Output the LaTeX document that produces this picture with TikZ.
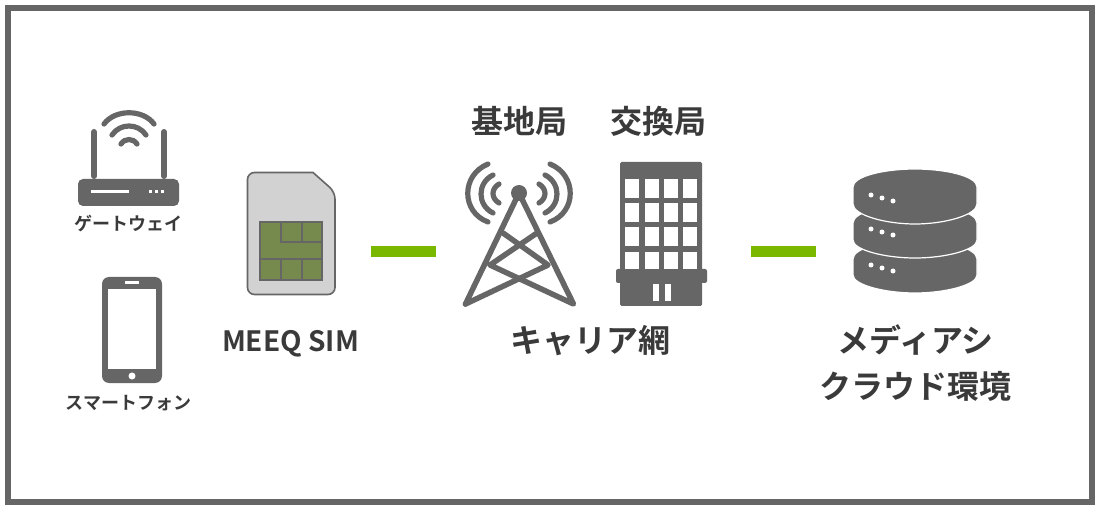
\documentclass[tikz,border=0pt]{standalone}
\usepackage{fontspec}
\setmainfont{Noto Sans CJK JP}[BoldFont={Noto Sans CJK JP Bold}]
\definecolor{ic}{HTML}{666666}
\definecolor{tx}{HTML}{3A3A3A}
\definecolor{bar}{HTML}{7AB800}
\definecolor{chip}{HTML}{758A4C}
\definecolor{sim}{HTML}{D2D2D2}
\tikzset{
 big/.style={text=tx,font=\fontsize{32}{37}\selectfont\bfseries,inner sep=0pt,align=center},
 small/.style={text=tx,font=\fontsize{18}{22}\selectfont\bfseries,inner sep=0pt},
 latin/.style={text=tx,font=\fontsize{28}{32}\selectfont\bfseries,inner sep=0pt},
 bars/.style={draw=bar,line width=11pt},
 wave/.style={draw=ic,line width=5.2pt,line cap=round},
 truss/.style={draw=ic,line width=5.5pt,line cap=round,line join=round},
 chipline/.style={draw=ic,line width=2.4pt},
 win/.style={fill=white},
 dot/.style={fill=white},
 disc/.style={fill=ic,draw=white,line width=1.2pt}
}
\begin{document}
\begin{tikzpicture}[x=1pt,y=-1pt]
\useasboundingbox (0,0) rectangle (1100,510);
\fill[white] (0,0) rectangle (1100,510);
\draw[ic,line width=6pt] (8,8) rectangle (1092,502);
% router
\fill[ic,rounded corners=5pt] (78,179) rectangle (179,206);
\fill[white] (91,190.5) rectangle (129,193.5);
\foreach \x in {149,155,161} \fill[white] (\x,190.5) rectangle +(3.2,3);
\draw[ic,line width=6pt,line cap=round] (94,132) -- (94,176) (164,132) -- (164,176);
\draw[wave] (104,124) .. controls (115,109) and (143,109) .. (154,124);
\draw[wave] (112,135) .. controls (120,123) and (138,123) .. (146,135);
\draw[wave] (121,144) .. controls (125,138) and (133,138) .. (137,144);
\node[small] (gw) at (128.5,224) {ゲートウェイ};
% phone
\fill[ic,rounded corners=7pt] (102,277) rectangle (162,383);
\fill[white] (108,289) rectangle (156,369);
\fill[white] (125,281.5) rectangle (139,284);
\fill[white] (132,376) circle (3.5);
\node[small] (sp) at (128.5,403) {スマートフォン};
% sim
\draw[draw=ic,fill=sim,line width=1.6pt,rounded corners=7pt] (313,172.5) -- (247.5,172.5) -- (247.5,294.5) -- (335,294.5) -- (335,192) [sharp corners] -- (313,172.5) -- cycle;
\fill[chip] (260,222) rectangle (322,280);
\draw[chipline] (260,222) rectangle (322,280);
\draw[chipline] (281,222) -- (281,242) -- (322,242) (302,222) -- (302,242) (260,259) -- (322,259) (281,259) -- (281,280) (302,259) -- (302,280);
\node[latin] (meeq) at (290.5,344) {MEEQ SIM};
% bars
\coordinate (b1a) at (371,251.5); \coordinate (b1b) at (436,251.5);
\coordinate (b2a) at (751,251.5); \coordinate (b2b) at (816,251.5);
\draw[bars] (b1a) -- (b1b);
\draw[bars] (b2a) -- (b2b);
% tower
\fill[ic] (519,193) circle (8);
\draw[wave] (488,164) .. controls (461,175) and (461,212) .. (488,222);
\draw[wave] (493,175) .. controls (477,183) and (477,205) .. (493,213);
\draw[wave] (499,184) .. controls (491,189) and (491,198) .. (499,203);
\draw[wave] (550,164) .. controls (577,175) and (577,212) .. (550,222);
\draw[wave] (545,175) .. controls (561,183) and (561,205) .. (545,213);
\draw[wave] (539,184) .. controls (547,189) and (547,198) .. (539,203);
\draw[truss] (465.5,304) -- (519,193) -- (573.5,304) -- (490,265) -- (537,233);
\draw[truss] (465.5,304) -- (548,265) -- (503,233);
\node[big] (bs) at (519,121) {基地局};
% building
\fill[ic,rounded corners=1.5pt] (620,162) rectangle (702,306);
\fill[ic,rounded corners=2pt] (616,269) rectangle (707,283);
\foreach \x in {625,645,664,683}
 \foreach \y/\h in {179/19,203/19,227/19,252/17}
  \fill[win] (\x,\y) rectangle +(14,\h);
\fill[win] (653,284) rectangle (659,301);
\fill[win] (665,284) rectangle (671,301);
\node[big] (ex) at (658.5,121) {交換局};
\node[big] (car) at (590,341) {キャリア網};
% database
\path[disc] (853,259) .. controls (853,248) and (885,240) .. (915,240) .. controls (945,240) and (977,248) .. (977,259) -- (977,275) .. controls (977,285) and (945,293) .. (915,293) .. controls (885,293) and (853,285) .. (853,275) -- cycle;
\path[disc] (853,223) .. controls (853,212) and (885,204) .. (915,204) .. controls (945,204) and (977,212) .. (977,223) -- (977,240) .. controls (977,250) and (945,258) .. (915,258) .. controls (885,258) and (853,250) .. (853,240) -- cycle;
\path[disc] (853,187) .. controls (853,176) and (885,169) .. (915,169) .. controls (945,169) and (977,176) .. (977,187) -- (977,204) .. controls (977,215) and (945,224) .. (915,224) .. controls (885,224) and (853,215) .. (853,204) -- cycle;
\foreach \y in {195,229,265} {
 \fill[dot] (871,\y) circle (2.5);
 \fill[dot] (882,\y+3) circle (2.5);
 \fill[dot] (893,\y+6) circle (2.5);
}
\node[big] (cl) at (915.5,363) {メディアシ\\[9pt]クラウド環境};
\end{tikzpicture}
\end{document}
